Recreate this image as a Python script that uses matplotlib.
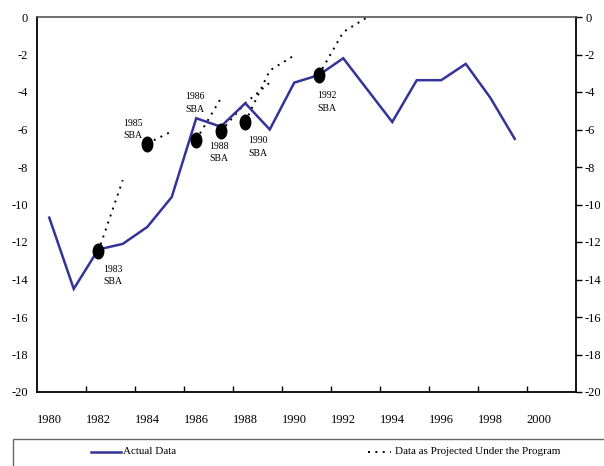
import matplotlib
matplotlib.use("Agg")
import matplotlib.pyplot as plt
import matplotlib.path as mpath
from matplotlib.lines import Line2D
from matplotlib.patches import Rectangle
import numpy as np

# Actual current account balance (percent of GDP)
years = list(range(1980, 2000))
actual = [-10.7, -14.5, -12.4, -12.1, -11.2, -9.6, -5.4, -5.85, -4.6, -6.0,
          -3.5, -3.1, -2.2, -3.9, -5.6, -3.37, -3.37, -2.5, -4.3, -6.5]

# Projections made under each stand-by arrangement (start point, then path)
sba_labels = ["1983\nSBA", "1985\nSBA", "1986\nSBA", "1988\nSBA", "1990\nSBA", "1992\nSBA"]
sba_years = [[1982, 1983], [1984, 1985], [1986, 1987], [1987, 1988, 1989],
             [1988, 1989, 1990], [1991, 1992, 1993]]
sba_values = [[-12.5, -8.7], [-6.75, -6.1], [-6.55, -4.35], [-6.1, -4.6, -3.5],
              [-5.6, -2.85, -2.05], [-3.1, -0.8, 0.0]]

x_labels = [str(y) for y in range(1980, 2001, 2)]
y_ticks = list(range(-20, 1, 2))

W, H = 604, 466
fig = plt.figure(figsize=(W / 100, H / 100), dpi=100)
plt.rcParams['font.family'] = ['Liberation Serif', 'DejaVu Serif']

L, R, T, B = 37, 576, 17, 392
ax = fig.add_axes([L / W, 1 - B / H, (R - L) / W, (B - T) / H])

navy = "#333399"
ax.plot(years, actual, color=navy, lw=1.8, solid_joinstyle="miter", zorder=3)

# Tall ellipse marker for the programme start points
circ = mpath.Path.unit_circle()
ellipse = mpath.Path(circ.vertices * np.array([0.72, 1.0]), circ.codes)

offsets = [(15, -24), (-14, 14), (-1, 37), (-2, -21), (13, -25), (8, -27)]
for lab, xs, vs, off in zip(sba_labels, sba_years, sba_values, offsets):
    ax.plot(xs, vs, color="black", lw=1.4, linestyle=(0, (1, 2.8)), zorder=2)
    ax.plot(xs[0], vs[0], marker=ellipse, markersize=10.5, color="black",
            linestyle="none", zorder=4)
    ax.annotate(lab, (xs[0], vs[0]), xytext=off, textcoords="offset pixels",
                ha="center", va="center", fontsize=7, linespacing=1.5)

ax.set_xlim(1979.5, 2001.5)
ax.set_ylim(-20, 0)

# Category-style x axis: boundary ticks inside, labels centred on years
ax.set_xticks(np.arange(1981.5, 2000, 2))
ax.set_xticklabels([])
ax.tick_params(axis="x", which="major", direction="in", length=4, width=1, color="black")
ax.set_xticks(range(1980, 2001, 2), minor=True)
ax.set_xticklabels(x_labels, minor=True, fontsize=9)
ax.tick_params(axis="x", which="minor", length=0, pad=16)

ax.set_yticks(y_ticks)
ax.set_yticklabels([str(v) for v in y_ticks], fontsize=9)
ax.tick_params(axis="y", left=False, right=True, labelleft=True, labelright=True,
               direction="out", length=4, width=1, pad=2.5)

for s in ["left", "right", "bottom"]:
    ax.spines[s].set_color("black")
    ax.spines[s].set_linewidth(1.3)
ax.spines["top"].set_color("#555555")
ax.spines["top"].set_linewidth(1.2)

# Legend box along the bottom edge
fig.add_artist(Rectangle((13 / W, -0.05), 1.0, (1 - 439 / H) + 0.05,
                         transform=fig.transFigure, fill=False,
                         edgecolor="#666666", lw=1.0, clip_on=False))
ly = 1 - 452 / H
fig.add_artist(Line2D([91 / W, 121 / W], [ly, ly], color=navy, lw=1.8,
                      transform=fig.transFigure))
fig.text(123 / W, ly, "Actual Data", fontsize=8, va="center", ha="left")
fig.add_artist(Line2D([368 / W, 391 / W], [ly, ly], color="black", lw=1.4,
                      linestyle=(0, (1, 2.8)), transform=fig.transFigure))
fig.text(395 / W, ly, "Data as Projected Under the Program", fontsize=8,
         va="center", ha="left")

fig.savefig("out.png", dpi=100)
